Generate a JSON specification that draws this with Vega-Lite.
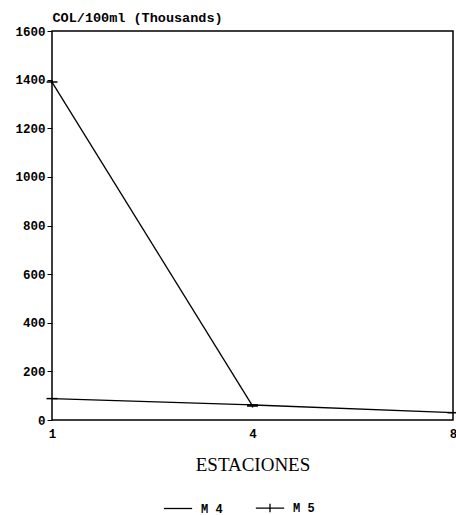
{
  "$schema": "https://vega.github.io/schema/vega-lite/v6.json",
  "autosize": "none",
  "width": 401,
  "height": 389,
  "padding": {"left": 52, "top": 31, "right": 3, "bottom": 95},
  "background": "white",
  "config": {
    "view": {"stroke": "black", "strokeWidth": 1.5},
    "axis": {"domainColor": "black", "tickColor": "black", "grid": false, "labelColor": "black", "titleColor": "black"}
  },
  "data": {
    "values": [
      {"estacion": "1", "serie": "M 4", "col": 88},
      {"estacion": "4", "serie": "M 4", "col": 62},
      {"estacion": "8", "serie": "M 4", "col": 30},
      {"estacion": "1", "serie": "M 5", "col": 1390},
      {"estacion": "4", "serie": "M 5", "col": 58}
    ]
  },
  "encoding": {
    "x": {
      "field": "estacion", "type": "ordinal",
      "scale": {"type": "point", "padding": 0, "domain": ["1", "4", "8"]},
      "axis": {
        "title": "ESTACIONES", "labelAngle": 0, "domain": false, "ticks": false,
        "labelFont": "Liberation Mono", "labelFontWeight": "bold", "labelFontSize": 12.5, "labelPadding": 7,
        "titleFont": "Liberation Serif", "titleFontWeight": "normal", "titleFontSize": 19, "titlePadding": 16
      }
    },
    "y": {
      "field": "col", "type": "quantitative",
      "scale": {"domain": [0, 1600], "nice": false},
      "axis": {
        "values": [0, 200, 400, 600, 800, 1000, 1200, 1400, 1600], "format": "d",
        "domain": false, "tickSize": 5, "labelPadding": 2,
        "labelFont": "Liberation Mono", "labelFontWeight": "bold", "labelFontSize": 12.5,
        "title": "COL/100ml (Thousands)", "titleAngle": 0, "titleAlign": "left", "titleBaseline": "bottom",
        "titleX": 0, "titleY": -7, "titleFont": "Liberation Mono", "titleFontWeight": "bold", "titleFontSize": 13.5
      }
    }
  },
  "layer": [
    {
      "mark": {"type": "line", "color": "black", "strokeWidth": 1.3},
      "encoding": {"detail": {"field": "serie"}}
    },
    {
      "mark": {"type": "point", "filled": false, "stroke": "black", "strokeWidth": 1.5, "size": 120, "opacity": 1},
      "encoding": {
        "shape": {
          "field": "serie", "type": "nominal",
          "scale": {"domain": ["M 4", "M 5"], "range": ["M-1,0H1", "M-1,0H1M0,-0.3V0.3"]},
          "legend": {
            "title": null, "orient": "none", "direction": "horizontal",
            "legendX": 111, "legendY": 462, "symbolSize": 800, "symbolStrokeWidth": 1.3,
            "symbolStrokeColor": "black", "columnPadding": 30, "labelOffset": 8,
            "labelFont": "Liberation Mono", "labelFontWeight": "bold", "labelFontSize": 12, "labelColor": "black"
          }
        }
      }
    }
  ]
}
